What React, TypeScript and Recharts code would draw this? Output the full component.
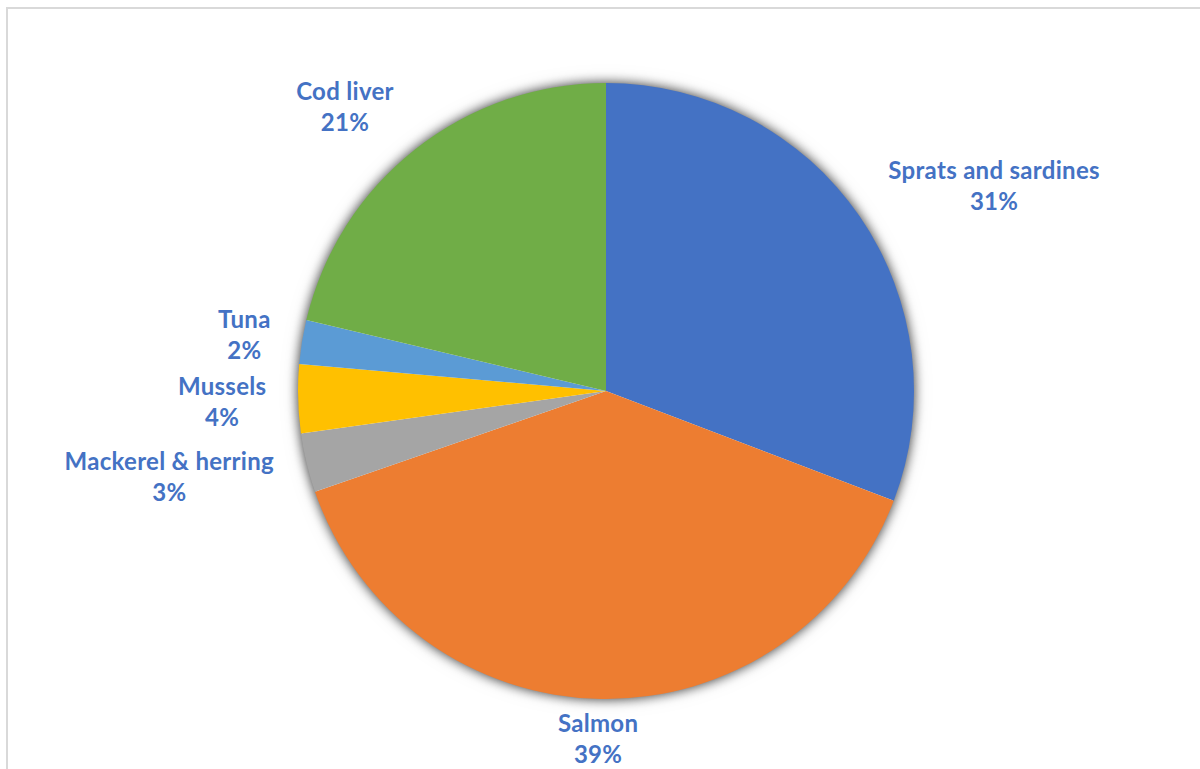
import React from 'react';
import { PieChart, Pie, Cell } from 'recharts';

const categories = [
  'Sprats and sardines',
  'Salmon',
  'Mackerel & herring',
  'Mussels',
  'Tuna',
  'Cod liver',
];
const shares = [30.8, 38.9, 3.1, 3.6, 2.3, 21.3];
const colors = ['#4472C4', '#ED7D31', '#A5A5A5', '#FFC000', '#5B9BD5', '#70AD47'];

const chartData = categories.map((name, i) => ({ name, value: shares[i] }));
const shadowData = [{ name: 'all', value: shares.reduce((a, b) => a + b, 0) }];

// where each data label sits: distance from centre and angle nudge (deg, clockwise)
const labelLayout = [
  { dist: 439, shift: 6.7 },
  { dist: 348, shift: 0.4 },
  { dist: 445, shift: 2.4 },
  { dist: 384, shift: -0.1 },
  { dist: 366, shift: -0.3 },
  { dist: 386, shift: -4.2 },
];

const RAD = Math.PI / 180;

const renderLabel = (props: any) => {
  const { cx, cy, midAngle, index, name, percent } = props;
  const layout = labelLayout[index];
  const theta = (90 - midAngle + layout.shift) * RAD;
  const x = cx + layout.dist * Math.sin(theta);
  const y = cy - 0.5 - layout.dist * Math.cos(theta);
  return (
    <text
      x={x}
      y={y}
      textAnchor="middle"
      fill="#4472C4"
      fontFamily="Lato, 'Open Sans', sans-serif"
      fontWeight="bold"
      fontSize={24}
      letterSpacing={0.3}
    >
      <tspan x={x} y={y - 15.5} dominantBaseline="central">
        {name}
      </tspan>
      <tspan x={x} y={y + 15.5} dominantBaseline="central">
        {`${Math.round(percent * 100)}%`}
      </tspan>
    </text>
  );
};

export default function App() {
  return (
    <div
      style={{
        position: 'fixed',
        left: 0,
        top: 0,
        width: 1200,
        height: 769,
        overflow: 'hidden',
        background: '#fff',
      }}
    >
      <style>{`.pie-shadow { filter: drop-shadow(0 0 6px rgba(0,0,0,0.5)); }`}</style>
      <div
        style={{
          position: 'absolute',
          left: 6,
          top: 7,
          width: 1240,
          height: 820,
          border: '2px solid #d9d9d9',
          boxSizing: 'border-box',
        }}
      />
      <div style={{ position: 'absolute', left: 0, top: 0 }}>
        <PieChart width={1200} height={769} margin={{ top: 0, right: 0, bottom: 0, left: 0 }}>
          <Pie
            className="pie-shadow"
            data={shadowData}
            dataKey="value"
            cx={606}
            cy={391}
            outerRadius={307}
            startAngle={90}
            endAngle={-270}
            stroke="none"
            fill="#ffffff"
            isAnimationActive={false}
          />
          <Pie
            data={chartData}
            dataKey="value"
            nameKey="name"
            cx={606}
            cy={391}
            outerRadius={308}
            startAngle={90}
            endAngle={-270}
            stroke="none"
            label={renderLabel}
            labelLine={false}
            isAnimationActive={false}
          >
            {chartData.map((d, i) => (
              <Cell key={d.name} fill={colors[i]} />
            ))}
          </Pie>
        </PieChart>
      </div>
    </div>
  );
}
